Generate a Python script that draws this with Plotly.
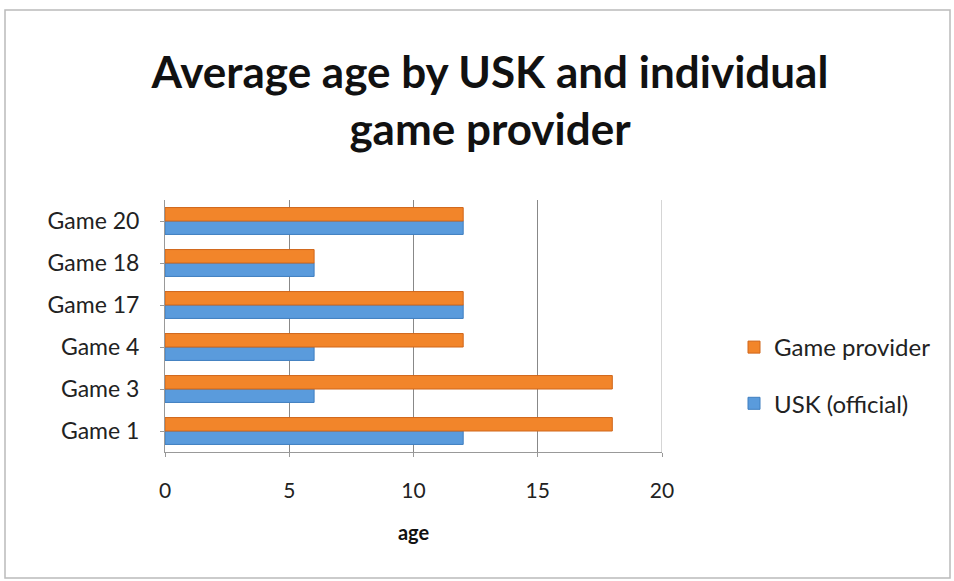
import plotly.graph_objects as go

categories = ["Game 1", "Game 3", "Game 4", "Game 17", "Game 18", "Game 20"]
usk_official = [12, 6, 6, 12, 6, 12]
game_provider = [18, 18, 12, 12, 6, 12]
x_ticks = [0, 5, 10, 15, 20]

W, H = 954, 581
ML, MR, MT, MB = 165, 292, 200, 129
PW, PH = W - ML - MR, H - MT - MB

FONT = "Lato"

fig = go.Figure()
fig.add_trace(go.Bar(
    y=categories, x=usk_official, orientation="h", name="USK (official)",
    marker=dict(color="#5A9BDC", line=dict(color="#3F7FC0", width=1)),
    legendgroup="usk", legendrank=2,
))
fig.add_trace(go.Bar(
    y=categories, x=game_provider, orientation="h", name="Game provider",
    marker=dict(color="#F2852A", line=dict(color="#D0661A", width=1)),
    legendgroup="gp", legendrank=1,
))

def px_x(p):
    return (p - ML) / PW

def px_y(p):
    return 1 - (p - MT) / PH

shapes = [
    dict(type="rect", xref="paper", yref="paper",
         x0=px_x(5), x1=px_x(950), y0=px_y(10), y1=px_y(578),
         line=dict(color="#BBBBBB", width=1.5), fillcolor="rgba(0,0,0,0)", layer="below"),
]

fig.update_layout(
    width=W, height=H,
    margin=dict(l=ML, r=MR, t=MT, b=MB),
    paper_bgcolor="white", plot_bgcolor="white",
    barmode="group", bargap=0.36, bargroupgap=0.0,
    title=dict(text="<b>Average age by USK and individual<br>game provider</b>",
               x=490 / W, xanchor="center", y=1 - 88 / H, yanchor="middle",
               font=dict(family=FONT, size=44, color="#111111")),
    font=dict(family=FONT, color="#222222"),
    xaxis=dict(range=[0, 20], tickvals=x_ticks, showgrid=True, gridcolor="#888888",
               gridwidth=1, zeroline=False, showline=True, linecolor="#999999",
               ticks="outside", ticklen=4, tickcolor="#999999",
               ticklabelstandoff=16,
               tickfont=dict(size=21, family=FONT, color="#222222"),
               title=dict(text="<b>age</b>", font=dict(size=20, family=FONT, color="#111111"),
                          standoff=24),
               mirror=False),
    yaxis=dict(categoryorder="array", categoryarray=categories, showgrid=False,
               showline=True, linecolor="#999999", ticks="outside", ticklen=4,
               tickcolor="#999999", tickfont=dict(size=23, family=FONT, color="#222222"),
               ticklabelstandoff=16),
    legend=dict(x=(734 - ML) / PW, xanchor="left", y=px_y(325), yanchor="top",
                traceorder="grouped", tracegroupgap=22,
                font=dict(size=24, family=FONT, color="#222222"),
                bgcolor="rgba(0,0,0,0)"),
    shapes=shapes,
)

fig.add_shape(type="line", xref="x", yref="paper", x0=20, x1=20, y0=0, y1=1,
              line=dict(color="#AAAAAA", width=1))

fig.write_html("out.html")
